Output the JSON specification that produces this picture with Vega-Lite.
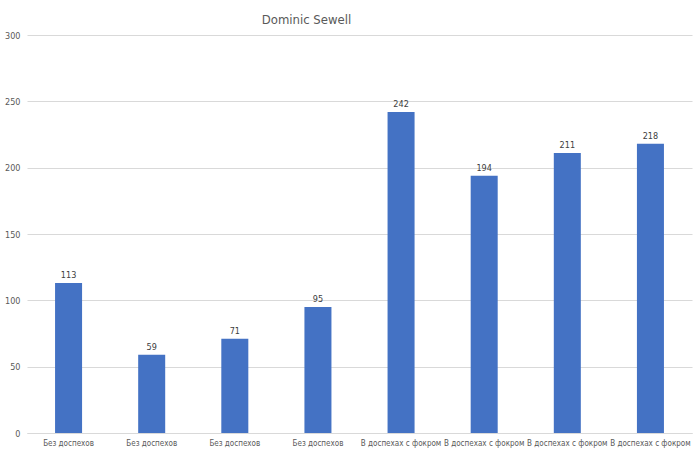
{
  "$schema": "https://vega.github.io/schema/vega-lite/v6.json",
  "autosize": "none",
  "width": 665,
  "height": 398,
  "padding": {"left": 27, "top": 35, "right": 8, "bottom": 24},
  "background": "white",
  "config": {
    "font": "Liberation Sans Narrow, DejaVu Sans Condensed, Liberation Sans, sans-serif",
    "view": {"stroke": null}
  },
  "title": {
    "text": "Dominic Sewell",
    "fontSize": 13,
    "fontWeight": "normal",
    "color": "#595959",
    "anchor": "middle",
    "dx": -53,
    "offset": 4
  },
  "data": {
    "values": [
      {"id": "Без доспехов|1", "value": 113},
      {"id": "Без доспехов|2", "value": 59},
      {"id": "Без доспехов|3", "value": 71},
      {"id": "Без доспехов|4", "value": 95},
      {"id": "В доспехах с фокром|5", "value": 242},
      {"id": "В доспехах с фокром|6", "value": 194},
      {"id": "В доспехах с фокром|7", "value": 211},
      {"id": "В доспехах с фокром|8", "value": 218}
    ]
  },
  "encoding": {
    "x": {
      "field": "id",
      "type": "nominal",
      "sort": null,
      "scale": {"paddingInner": 0.675, "paddingOuter": 0.3375},
      "axis": {
        "title": null,
        "labelAngle": 0,
        "labelExpr": "split(datum.value, '|')[0]",
        "labelColor": "#595959",
        "labelFontSize": 8,
        "labelPadding": 6,
        "labelOverlap": false,
        "ticks": false,
        "domainColor": "#d9d9d9",
        "grid": false
      }
    },
    "y": {
      "field": "value",
      "type": "quantitative",
      "scale": {"domain": [0, 300]},
      "axis": {
        "title": null,
        "values": [0, 50, 100, 150, 200, 250, 300],
        "labelColor": "#595959",
        "labelFontSize": 9,
        "labelPadding": 7,
        "ticks": false,
        "domain": false,
        "gridColor": "#d9d9d9"
      }
    }
  },
  "layer": [
    {"mark": {"type": "bar", "color": "#4472C4"}},
    {
      "mark": {"type": "text", "dy": -8, "fontSize": 9, "color": "#404040"},
      "encoding": {"text": {"field": "value", "type": "quantitative"}}
    }
  ]
}
